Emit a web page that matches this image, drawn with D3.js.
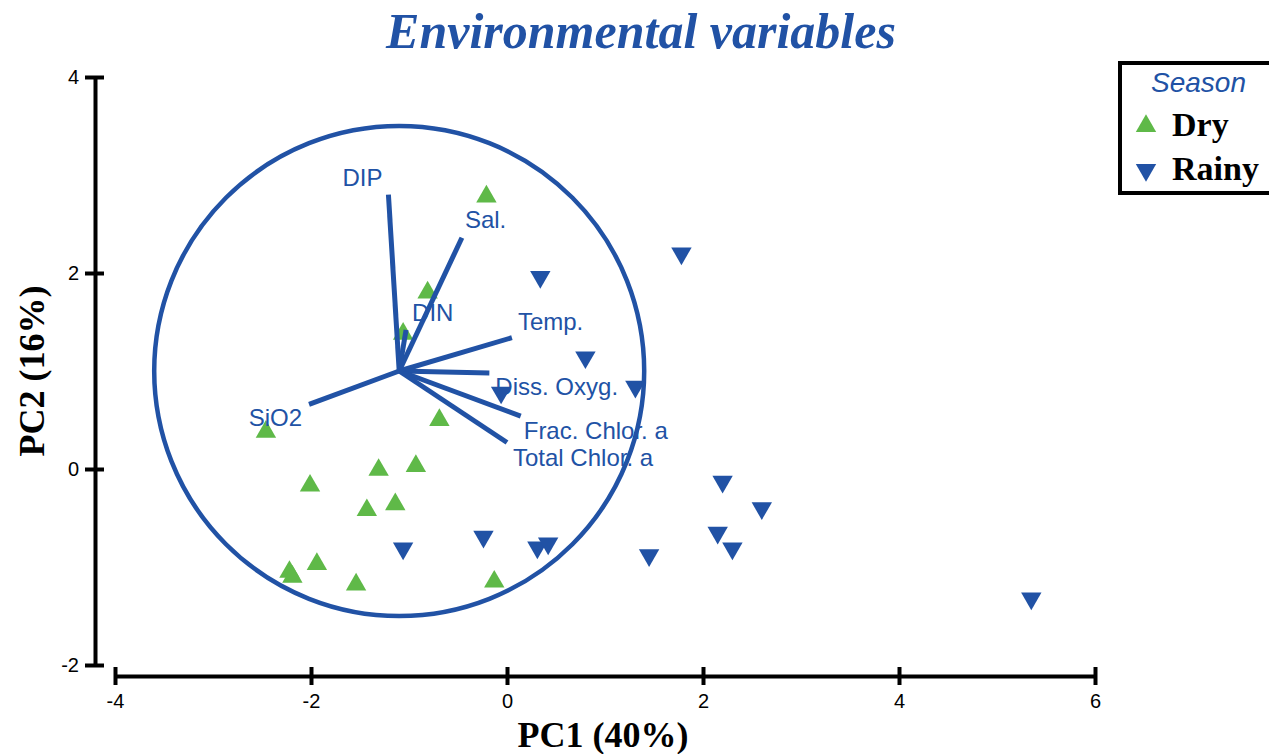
<!DOCTYPE html>
<html>
<head>
<meta charset="utf-8">
<script src="https://cdn.jsdelivr.net/npm/d3@7"></script>
<style>
    body { margin: 0; background: #fff; }
    svg { display: block; }
</style>
</head>
<body>
<div id="chart"></div>
<script>
// PC scores for the samples, by season
const drySamples = [
    [-0.21, 2.78], [-0.81, 1.80], [-1.06, 1.38], [-0.69, 0.50], [-2.46, 0.38],
    [-1.31, -0.01], [-0.93, 0.03], [-2.01, -0.17], [-1.43, -0.42], [-1.14, -0.36],
    [-1.94, -0.97], [-2.22, -1.05], [-2.19, -1.10], [-1.54, -1.18], [-0.13, -1.15]
];
const rainySamples = [
    [0.34, 1.96], [1.78, 2.20], [0.80, 1.14], [1.31, 0.84], [-0.06, 0.78],
    [-0.24, -0.69], [0.31, -0.80], [0.42, -0.76], [-1.06, -0.81], [1.45, -0.88],
    [2.20, -0.13], [2.60, -0.40], [2.15, -0.65], [2.30, -0.81], [5.35, -1.32]
];

// variable vectors (drawn from the circle centre)
const vectorOrigin = [-1.1, 1.0];
const circleRadius = 2.5;
const variableNames = ["DIP", "Sal.", "DIN", "Temp.", "Diss. Oxyg.", "Frac. Chlor. a", "Total Chlor. a", "SiO2"];
const variableEnds = [
    [-1.21, 2.80], [-0.46, 2.36], [-1.03, 1.42], [0.05, 1.34],
    [-0.18, 0.98], [0.14, 0.54], [0.00, 0.27], [-2.02, 0.66]
];

const xTicks = [-4, -2, 0, 2, 4, 6];
const yTicks = [-2, 0, 2, 4];
const seasons = ["Dry", "Rainy"];

const blue = "#2152a5", green = "#5fb948";

// label placement relative to the vector tip (pixels)
const labelOffsets = {
    "DIP": [-26, -9, "middle"],
    "Sal.": [3, -10, "start"],
    "DIN": [6, -9, "start"],
    "Temp.": [6, -8, "start"],
    "Diss. Oxyg.": [6, 22, "start"],
    "Frac. Chlor. a": [3, 23, "start"],
    "Total Chlor. a": [6, 23, "start"],
    "SiO2": [-7, 22, "end"]
};

const W = 1269, H = 754;
const svg = d3.select("#chart").append("svg")
    .attr("width", W)
    .attr("height", H);

const x = d3.scaleLinear().domain([-4, 6]).range([115, 1095]);
const y = d3.scaleLinear().domain([-2, 4]).range([665, 77]);

// Title
svg.append("text")
    .attr("x", 641)
    .attr("y", 48)
    .attr("text-anchor", "middle")
    .style("font-family", "'Liberation Serif', 'Times New Roman', serif")
    .style("font-weight", "bold")
    .style("font-style", "italic")
    .style("font-size", "50px")
    .attr("fill", blue)
    .text("Environmental variables");

// X axis
const xAxis = svg.append("g")
    .attr("transform", "translate(0,676)")
    .call(d3.axisBottom(x).tickValues(xTicks).tickSizeOuter(0).tickSizeInner(0).tickFormat(d => String(d)));
xAxis.select(".domain").attr("stroke", "#000").attr("stroke-width", 4);
xAxis.selectAll(".tick line").attr("y1", -9).attr("y2", 9).attr("stroke", "#000").attr("stroke-width", 4);
xAxis.selectAll(".tick text")
    .attr("y", 18)
    .style("font-family", "'Liberation Sans', Arial, sans-serif")
    .style("font-size", "20px")
    .attr("fill", "#000");

// Y axis
const yAxis = svg.append("g")
    .attr("transform", "translate(95,0)")
    .call(d3.axisLeft(y).tickValues(yTicks).tickSizeOuter(0).tickSizeInner(0).tickFormat(d => String(d)));
yAxis.select(".domain").attr("stroke", "#000").attr("stroke-width", 4);
yAxis.selectAll(".tick line").attr("x1", -10).attr("x2", 9).attr("stroke", "#000").attr("stroke-width", 4);
yAxis.selectAll(".tick text")
    .attr("x", -16)
    .style("font-family", "'Liberation Sans', Arial, sans-serif")
    .style("font-size", "20px")
    .attr("fill", "#000");

// Axis titles
svg.append("text")
    .attr("x", 603)
    .attr("y", 747)
    .attr("text-anchor", "middle")
    .style("font-family", "'Liberation Serif', 'Times New Roman', serif")
    .style("font-weight", "bold")
    .style("font-size", "36px")
    .text("PC1 (40%)");

svg.append("text")
    .attr("transform", "translate(44,371) rotate(-90)")
    .attr("text-anchor", "middle")
    .style("font-family", "'Liberation Serif', 'Times New Roman', serif")
    .style("font-weight", "bold")
    .style("font-size", "36px")
    .text("PC2 (16%)");

// Sample points
const triUp = d3.symbol().type(d3.symbolTriangle).size(180);

svg.append("g").selectAll("path")
    .data(drySamples)
    .enter()
    .append("path")
    .attr("d", triUp)
    .attr("transform", d => `translate(${x(d[0])},${y(d[1])})`)
    .attr("fill", green);

svg.append("g").selectAll("path")
    .data(rainySamples)
    .enter()
    .append("path")
    .attr("d", triUp)
    .attr("transform", d => `translate(${x(d[0])},${y(d[1])}) rotate(180)`)
    .attr("fill", blue);

// Correlation circle
svg.append("ellipse")
    .attr("cx", x(vectorOrigin[0]))
    .attr("cy", y(vectorOrigin[1]))
    .attr("rx", x(circleRadius) - x(0))
    .attr("ry", y(0) - y(circleRadius))
    .attr("fill", "none")
    .attr("stroke", blue)
    .attr("stroke-width", 4.5);

// Vectors
const vectors = variableNames.map((name, i) => ({ name: name, end: variableEnds[i] }));

svg.append("g").selectAll("line")
    .data(vectors)
    .enter()
    .append("line")
    .attr("x1", x(vectorOrigin[0]))
    .attr("y1", y(vectorOrigin[1]))
    .attr("x2", d => x(d.end[0]))
    .attr("y2", d => y(d.end[1]))
    .attr("stroke", blue)
    .attr("stroke-width", 5);

svg.append("g").selectAll("text")
    .data(vectors)
    .enter()
    .append("text")
    .attr("x", d => x(d.end[0]) + labelOffsets[d.name][0])
    .attr("y", d => y(d.end[1]) + labelOffsets[d.name][1])
    .attr("text-anchor", d => labelOffsets[d.name][2])
    .style("font-family", "'Liberation Sans', Arial, sans-serif")
    .style("font-size", "24px")
    .attr("fill", blue)
    .text(d => d.name);

// Legend
const legend = svg.append("g");
legend.append("rect")
    .attr("x", 1120)
    .attr("y", 63)
    .attr("width", 170)
    .attr("height", 130)
    .attr("fill", "#fff")
    .attr("stroke", "#000")
    .attr("stroke-width", 4);

legend.append("text")
    .attr("x", 1151)
    .attr("y", 92)
    .style("font-family", "'Liberation Sans', Arial, sans-serif")
    .style("font-style", "italic")
    .style("font-size", "28px")
    .attr("fill", blue)
    .text("Season");

seasons.forEach((s, i) => {
    const cy = 126 + i * 44;
    legend.append("path")
        .attr("d", triUp)
        .attr("transform", `translate(1146,${cy})` + (i === 1 ? " rotate(180)" : ""))
        .attr("fill", i === 0 ? green : blue);
    legend.append("text")
        .attr("x", 1172)
        .attr("y", cy + 10)
        .style("font-family", "'Liberation Serif', 'Times New Roman', serif")
        .style("font-weight", "bold")
        .style("font-size", "34px")
        .attr("fill", "#000")
        .text(s);
});
</script>
</body>
</html>
